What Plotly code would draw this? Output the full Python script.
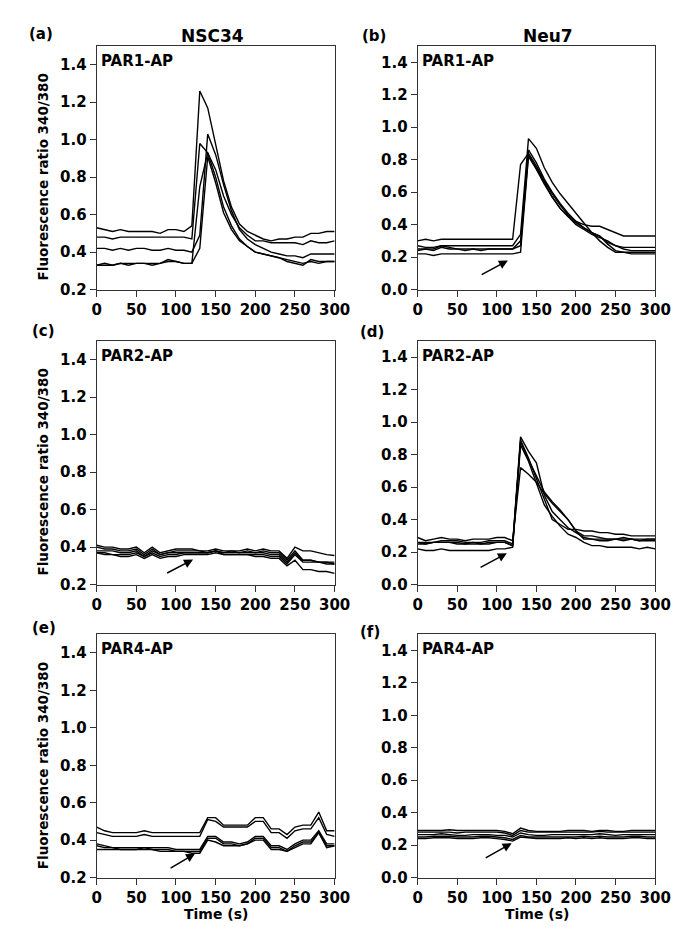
import plotly.graph_objects as go

W, H = 691, 937
time_s = list(range(0, 301, 10))

# Panel (a) NSC34 PAR1-AP
a1 = [0.53,0.52,0.51,0.52,0.51,0.51,0.51,0.51,0.50,0.52,0.52,0.51,0.54,1.26,1.17,0.98,0.78,0.64,0.55,0.51,0.49,0.47,0.46,0.47,0.47,0.48,0.48,0.50,0.50,0.51,0.51]
a2 = [0.48,0.48,0.47,0.48,0.48,0.48,0.48,0.48,0.48,0.48,0.48,0.48,0.47,0.98,0.93,0.84,0.70,0.60,0.53,0.49,0.46,0.46,0.45,0.45,0.45,0.45,0.44,0.46,0.45,0.45,0.46]
a3 = [0.42,0.42,0.41,0.42,0.41,0.42,0.42,0.41,0.41,0.42,0.41,0.41,0.40,0.49,1.03,0.92,0.76,0.62,0.52,0.47,0.44,0.42,0.40,0.39,0.38,0.38,0.37,0.39,0.39,0.39,0.39]
a4 = [0.33,0.33,0.33,0.34,0.33,0.34,0.34,0.33,0.34,0.36,0.35,0.34,0.34,0.75,0.93,0.80,0.64,0.54,0.47,0.43,0.40,0.39,0.38,0.37,0.35,0.34,0.33,0.36,0.35,0.35,0.35]
a5 = [0.33,0.34,0.33,0.34,0.34,0.34,0.34,0.34,0.34,0.35,0.35,0.34,0.34,0.42,0.91,0.77,0.61,0.52,0.46,0.43,0.40,0.39,0.38,0.37,0.36,0.35,0.34,0.35,0.34,0.35,0.35]

# Panel (b) Neu7 PAR1-AP
b1 = [0.30,0.31,0.30,0.31,0.31,0.31,0.31,0.31,0.31,0.31,0.31,0.31,0.31,0.77,0.84,0.76,0.67,0.59,0.52,0.46,0.42,0.40,0.39,0.39,0.37,0.35,0.33,0.33,0.33,0.33,0.33]
b2 = [0.27,0.26,0.26,0.27,0.27,0.27,0.27,0.27,0.27,0.27,0.27,0.27,0.27,0.34,0.93,0.87,0.75,0.66,0.59,0.53,0.47,0.41,0.35,0.30,0.26,0.23,0.23,0.23,0.23,0.23,0.23]
b3 = [0.25,0.25,0.24,0.26,0.25,0.25,0.25,0.25,0.25,0.25,0.25,0.25,0.25,0.30,0.86,0.78,0.68,0.60,0.53,0.47,0.42,0.38,0.35,0.33,0.29,0.27,0.26,0.26,0.26,0.26,0.26]
b4 = [0.24,0.25,0.25,0.27,0.26,0.25,0.24,0.25,0.24,0.25,0.25,0.25,0.25,0.27,0.83,0.75,0.66,0.57,0.50,0.45,0.40,0.37,0.34,0.32,0.30,0.27,0.25,0.24,0.24,0.24,0.24]
b5 = [0.22,0.22,0.21,0.22,0.22,0.22,0.22,0.22,0.22,0.22,0.22,0.22,0.22,0.23,0.82,0.74,0.65,0.57,0.50,0.45,0.41,0.38,0.35,0.33,0.28,0.24,0.23,0.22,0.22,0.22,0.22]

# Panel (c) NSC34 PAR2-AP
c1 = [0.41,0.40,0.40,0.39,0.39,0.40,0.37,0.40,0.37,0.38,0.39,0.39,0.39,0.38,0.38,0.39,0.38,0.38,0.38,0.39,0.38,0.39,0.38,0.38,0.34,0.40,0.38,0.38,0.37,0.36,0.355]
c2 = [0.40,0.39,0.39,0.38,0.38,0.39,0.36,0.39,0.36,0.37,0.38,0.38,0.38,0.38,0.37,0.38,0.37,0.38,0.37,0.38,0.37,0.38,0.37,0.37,0.33,0.38,0.33,0.33,0.32,0.32,0.31]
c3 = [0.38,0.38,0.38,0.37,0.37,0.38,0.35,0.38,0.36,0.37,0.37,0.37,0.37,0.37,0.37,0.38,0.37,0.37,0.37,0.37,0.37,0.37,0.36,0.36,0.32,0.37,0.33,0.33,0.32,0.32,0.32]
c4 = [0.37,0.37,0.36,0.36,0.36,0.37,0.35,0.37,0.35,0.36,0.36,0.37,0.37,0.37,0.37,0.38,0.36,0.36,0.36,0.36,0.36,0.36,0.35,0.35,0.31,0.36,0.32,0.32,0.32,0.31,0.31]
c5 = [0.37,0.36,0.36,0.35,0.35,0.36,0.34,0.36,0.34,0.35,0.35,0.36,0.36,0.36,0.36,0.37,0.36,0.36,0.36,0.36,0.35,0.35,0.34,0.34,0.30,0.33,0.28,0.28,0.27,0.27,0.26]

# Panel (d) Neu7 PAR2-AP
d1 = [0.29,0.27,0.28,0.29,0.28,0.28,0.27,0.28,0.28,0.28,0.29,0.29,0.27,0.72,0.68,0.63,0.56,0.50,0.45,0.40,0.33,0.30,0.30,0.29,0.28,0.28,0.29,0.28,0.27,0.27,0.27]
d2 = [0.26,0.26,0.26,0.27,0.27,0.27,0.26,0.26,0.26,0.27,0.27,0.27,0.25,0.91,0.82,0.75,0.55,0.45,0.40,0.35,0.32,0.29,0.28,0.28,0.28,0.28,0.28,0.28,0.28,0.28,0.28]
d3 = [0.26,0.25,0.26,0.26,0.26,0.26,0.25,0.26,0.25,0.26,0.26,0.26,0.24,0.89,0.78,0.65,0.52,0.40,0.37,0.34,0.34,0.33,0.33,0.32,0.32,0.31,0.31,0.30,0.30,0.30,0.30]
d4 = [0.25,0.25,0.26,0.26,0.26,0.25,0.25,0.25,0.25,0.25,0.26,0.26,0.24,0.88,0.77,0.67,0.57,0.51,0.46,0.40,0.33,0.28,0.28,0.27,0.27,0.28,0.27,0.28,0.27,0.28,0.28]
d5 = [0.22,0.21,0.21,0.22,0.21,0.21,0.21,0.21,0.21,0.21,0.22,0.22,0.23,0.86,0.76,0.62,0.49,0.42,0.36,0.31,0.29,0.26,0.24,0.24,0.23,0.23,0.23,0.23,0.22,0.23,0.22]

# Panel (e) NSC34 PAR4-AP
e1 = [0.47,0.45,0.44,0.44,0.44,0.44,0.45,0.44,0.44,0.44,0.44,0.44,0.44,0.44,0.52,0.52,0.48,0.48,0.48,0.48,0.52,0.52,0.46,0.46,0.43,0.47,0.48,0.48,0.55,0.45,0.45]
e2 = [0.44,0.43,0.42,0.42,0.42,0.42,0.43,0.42,0.42,0.42,0.42,0.42,0.42,0.42,0.51,0.50,0.47,0.47,0.47,0.47,0.50,0.50,0.44,0.44,0.41,0.45,0.46,0.46,0.52,0.43,0.42]
e3 = [0.38,0.37,0.36,0.36,0.36,0.36,0.36,0.36,0.36,0.36,0.35,0.35,0.35,0.35,0.42,0.42,0.39,0.39,0.38,0.39,0.42,0.42,0.37,0.37,0.35,0.38,0.40,0.40,0.45,0.38,0.38]
e4 = [0.37,0.36,0.36,0.35,0.35,0.35,0.36,0.35,0.35,0.35,0.34,0.34,0.34,0.34,0.41,0.41,0.38,0.38,0.37,0.38,0.41,0.41,0.36,0.36,0.34,0.37,0.39,0.39,0.44,0.37,0.37]
e5 = [0.35,0.35,0.35,0.35,0.35,0.35,0.35,0.35,0.34,0.34,0.34,0.34,0.33,0.33,0.40,0.39,0.37,0.37,0.37,0.38,0.40,0.40,0.35,0.35,0.34,0.36,0.38,0.38,0.44,0.36,0.37]

# Panel (f) Neu7 PAR4-AP
f1 = [0.29,0.29,0.29,0.29,0.295,0.29,0.29,0.29,0.29,0.29,0.29,0.285,0.27,0.305,0.29,0.285,0.285,0.285,0.285,0.29,0.29,0.29,0.285,0.29,0.29,0.285,0.285,0.29,0.29,0.29,0.29]
f2 = [0.28,0.28,0.28,0.28,0.28,0.275,0.28,0.28,0.28,0.28,0.28,0.275,0.26,0.29,0.28,0.28,0.28,0.28,0.28,0.28,0.28,0.28,0.28,0.285,0.28,0.28,0.28,0.28,0.28,0.28,0.28]
f3 = [0.265,0.265,0.265,0.27,0.265,0.26,0.26,0.265,0.265,0.265,0.26,0.26,0.25,0.275,0.265,0.26,0.26,0.265,0.265,0.265,0.265,0.265,0.265,0.27,0.265,0.26,0.265,0.265,0.265,0.265,0.265]
f4 = [0.25,0.25,0.255,0.255,0.255,0.25,0.25,0.25,0.255,0.255,0.25,0.245,0.235,0.26,0.25,0.25,0.25,0.25,0.25,0.25,0.25,0.255,0.25,0.255,0.25,0.25,0.25,0.255,0.255,0.25,0.25]
f5 = [0.24,0.24,0.245,0.245,0.245,0.24,0.24,0.24,0.245,0.245,0.24,0.235,0.225,0.25,0.245,0.24,0.24,0.24,0.24,0.245,0.24,0.245,0.24,0.245,0.24,0.24,0.24,0.245,0.245,0.24,0.24]

panels = [
    ("a", [a1, a2, a3, a4, a5], "PAR1-AP", [0.2, 1.5], [0.2,0.4,0.6,0.8,1.0,1.2,1.4], None),
    ("b", [b1, b2, b3, b4, b5], "PAR1-AP", [0.0, 1.5], [0.0,0.2,0.4,0.6,0.8,1.0,1.2,1.4], (79, 0.087, 114, 0.179)),
    ("c", [c1, c2, c3, c4, c5], "PAR2-AP", [0.2, 1.5], [0.2,0.4,0.6,0.8,1.0,1.2,1.4], (87, 0.258, 121.5, 0.334)),
    ("d", [d1, d2, d3, d4, d5], "PAR2-AP", [0.0, 1.5], [0.0,0.2,0.4,0.6,0.8,1.0,1.2,1.4], (77.6, 0.101, 112.7, 0.193)),
    ("e", [e1, e2, e3, e4, e5], "PAR4-AP", [0.2, 1.5], [0.2,0.4,0.6,0.8,1.0,1.2,1.4], (91.3, 0.246, 124, 0.328)),
    ("f", [f1, f2, f3, f4, f5], "PAR4-AP", [0.0, 1.5], [0.0,0.2,0.4,0.6,0.8,1.0,1.2,1.4], (84.1, 0.116, 118.8, 0.212)),
]
x_ticks = [0, 50, 100, 150, 200, 250, 300]

FONT = "DejaVu Sans, Arial, sans-serif"

# pixel boxes for each panel (left, right, top, bottom)
col_px = [(86.3, 331.7), (417.3, 662.3)]
row_px = [(38.4, 284.3), (336.2, 582.2), (632.3, 878.0)]

fig = go.Figure()
annotations = []
layout_axes = {}
for i, (lab, series, par, yr, yt, arrow) in enumerate(panels):
    r, c = divmod(i, 2)
    n = i + 1
    xs = "" if n == 1 else str(n)
    l, rr = col_px[c]
    t, b = row_px[r]
    for s in series:
        fig.add_trace(go.Scatter(x=time_s, y=s, mode="lines",
                                 line=dict(color="black", width=1.4),
                                 xaxis="x" + xs, yaxis="y" + xs, showlegend=False,
                                 hoverinfo="skip"))
    common = dict(showline=True, linecolor="#333", linewidth=1, mirror=True,
                  ticks="outside", ticklen=6, tickwidth=1, tickcolor="#333",
                  showgrid=False, zeroline=False,
                  tickfont=dict(family=FONT, size=15, color="black", weight="bold"))
    layout_axes["xaxis" + xs] = dict(common, domain=[l / W, rr / W], range=[0, 300],
                                     tickvals=x_ticks, anchor="y" + xs)
    layout_axes["yaxis" + xs] = dict(common, domain=[1 - b / H, 1 - t / H], range=yr,
                                     tickvals=yt, tickformat=".1f", anchor="x" + xs)
    annotations.append(dict(text=par, xref="x%s domain" % xs, yref="y%s domain" % xs,
                            x=0.01, y=0.985, xanchor="left", yanchor="top", showarrow=False,
                            font=dict(family=FONT, size=15, color="black", weight="bold")))
    if arrow is not None:
        x0, y0, x1, y1 = arrow
        annotations.append(dict(x=x1, y=y1, ax=x0, ay=y0, xref="x" + xs, yref="y" + xs,
                                axref="x" + xs, ayref="y" + xs, text="", showarrow=True,
                                arrowhead=2, arrowsize=1.2, arrowwidth=1.5, arrowcolor="black"))

def pa(text, px, py, size, angle=0):
    annotations.append(dict(text=text, x=px / W, y=1 - py / H, xref="paper", yref="paper",
                            xanchor="center", yanchor="middle", showarrow=False, textangle=angle,
                            font=dict(family=FONT, size=size, color="black", weight="bold")))

pa("(a)", 29, 26.5, 15)
pa("(b)", 372.5, 28, 15)
pa("(c)", 31.7, 326, 15)
pa("(d)", 370, 326.7, 15)
pa("(e)", 31.7, 625.8, 15)
pa("(f)", 368, 630, 15)
pa("NSC34", 206, 28, 17)
pa("Neu7", 552, 28, 17)
for yc in (171, 469, 765.5):
    pa("Fluorescence ratio 340/380", 31, yc, 13.5, -90)
pa("Time (s)", 209, 915, 14)
pa("Time (s)", 540, 915, 14)

fig.update_layout(width=W, height=H, margin=dict(l=0, r=0, t=0, b=0),
                  paper_bgcolor="white", plot_bgcolor="white",
                  annotations=annotations, **layout_axes)
fig.write_html("out.html")
